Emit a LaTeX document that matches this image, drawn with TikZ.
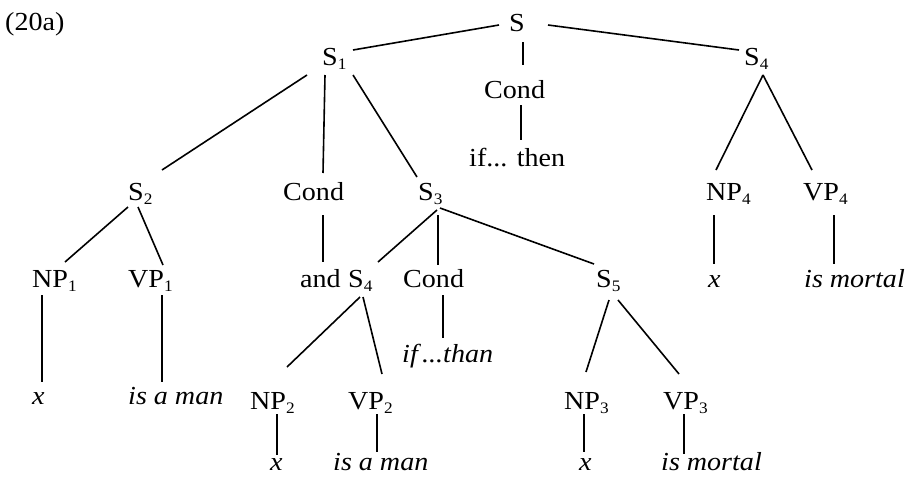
\documentclass[tikz,border=0pt]{standalone}
\usepackage{fontspec}
\setmainfont{Liberation Serif}[FakeStretch=1.08]
\newcommand\lsub[1]{\raisebox{-4pt}{\fontsize{16}{16}\selectfont #1}}
\begin{document}
\begin{tikzpicture}[x=1pt,y=-1pt,
  lab/.style={anchor=base west,inner sep=0pt,font=\fontsize{26}{30}\selectfont},
  edge/.style={line width=1.6pt}]
\useasboundingbox (0,0) rectangle (916,477);
% nodes
\node[lab] (t20) at (5,30) {(20a)};
\node[lab] (s) at (509,31) {S};
\node[lab] (s1) at (322,65) {S\lsub{1}};
\node[lab] (condA) at (484,98) {Cond};
\node[lab] (ifthen) at (469,166) {if... then};
\node[lab] (s4a) at (744,65) {S\lsub{4}};
\node[lab] (np4) at (706,200) {NP\lsub{4}};
\node[lab] (vp4) at (803,200) {VP\lsub{4}};
\node[lab] (x4) at (708,287) {\textit{x}};
\node[lab] (mort4) at (804,287) {\textit{is mortal}};
\node[lab] (s2) at (128,200) {S\lsub{2}};
\node[lab] (condB) at (283,200) {Cond};
\node[lab] (s3) at (418,200) {S\lsub{3}};
\node[lab] (np1) at (32,287) {NP\lsub{1}};
\node[lab] (vp1) at (128,287) {VP\lsub{1}};
\node[lab] (and) at (300,287) {and};
\node[lab] (s4b) at (348,287) {S\lsub{4}};
\node[lab] (condC) at (403,287) {Cond};
\node[lab] (s5) at (596,287) {S\lsub{5}};
\node[lab] (x1) at (32,404) {\textit{x}};
\node[lab] (man1) at (128,404) {\textit{is a man}};
\node[lab] (ifthan) at (402,362) {\textit{if\,...than}};
\node[lab] (np2) at (250,409) {NP\lsub{2}};
\node[lab] (vp2) at (348,409) {VP\lsub{2}};
\node[lab] (np3) at (564,409) {NP\lsub{3}};
\node[lab] (vp3) at (663,409) {VP\lsub{3}};
\node[lab] (x2) at (270,470) {\textit{x}};
\node[lab] (man2) at (333,470) {\textit{is a man}};
\node[lab] (x3) at (579,470) {\textit{x}};
\node[lab] (mort3) at (661,470) {\textit{is mortal}};
% connectors
\draw[edge] ([shift={(-10,-6)}]s.base west) -- ([shift={(31,-15)}]s1.base west);
\draw[edge] ([shift={(14,11)}]s.base west) -- ([shift={(39,-33)}]condA.base west);
\draw[edge] ([shift={(39,-6)}]s.base west) -- ([shift={(-5,-15)}]s4a.base west);
\draw[edge] ([shift={(37,7)}]condA.base west) -- ([shift={(52,-26)}]ifthen.base west);
\draw[edge] ([shift={(19,10)}]s4a.base west) -- ([shift={(10,-30)}]np4.base west);
\draw[edge] ([shift={(19,10)}]s4a.base west) -- ([shift={(9,-30)}]vp4.base west);
\draw[edge] ([shift={(8,15)}]np4.base west) -- ([shift={(6,-23)}]x4.base west);
\draw[edge] ([shift={(31,15)}]vp4.base west) -- ([shift={(30,-23)}]mort4.base west);
\draw[edge] ([shift={(-15,10)}]s1.base west) -- ([shift={(34,-30)}]s2.base west);
\draw[edge] ([shift={(3,10)}]s1.base west) -- ([shift={(40,-27)}]condB.base west);
\draw[edge] ([shift={(31,10)}]s1.base west) -- ([shift={(-1,-23)}]s3.base west);
\draw[edge] ([shift={(0,7)}]s2.base west) -- ([shift={(33,-25)}]np1.base west);
\draw[edge] ([shift={(10,7)}]s2.base west) -- ([shift={(35,-22)}]vp1.base west);
\draw[edge] ([shift={(40,15)}]condB.base west) -- ([shift={(23,-25)}]and.base west);
\draw[edge] ([shift={(19,10)}]s3.base west) -- ([shift={(30,-25)}]s4b.base west);
\draw[edge] ([shift={(20,15)}]s3.base west) -- ([shift={(35,-22)}]condC.base west);
\draw[edge] ([shift={(22,8)}]s3.base west) -- ([shift={(-2,-23)}]s5.base west);
\draw[edge] ([shift={(10,8)}]np1.base west) -- ([shift={(10,-22)}]x1.base west);
\draw[edge] ([shift={(34,8)}]vp1.base west) -- ([shift={(34,-22)}]man1.base west);
\draw[edge] ([shift={(40,8)}]condC.base west) -- ([shift={(41,-24)}]ifthan.base west);
\draw[edge] ([shift={(12,10)}]s4b.base west) -- ([shift={(37,-42)}]np2.base west);
\draw[edge] ([shift={(15,10)}]s4b.base west) -- ([shift={(34,-35)}]vp2.base west);
\draw[edge] ([shift={(13,13)}]s5.base west) -- ([shift={(22,-37)}]np3.base west);
\draw[edge] ([shift={(22,13)}]s5.base west) -- ([shift={(16,-35)}]vp3.base west);
\draw[edge] ([shift={(27,5)}]np2.base west) -- ([shift={(7,-15)}]x2.base west);
\draw[edge] ([shift={(29,5)}]vp2.base west) -- ([shift={(44,-18)}]man2.base west);
\draw[edge] ([shift={(20,5)}]np3.base west) -- ([shift={(5,-18)}]x3.base west);
\draw[edge] ([shift={(21,5)}]vp3.base west) -- ([shift={(23,-16)}]mort3.base west);
\end{tikzpicture}
\end{document}
